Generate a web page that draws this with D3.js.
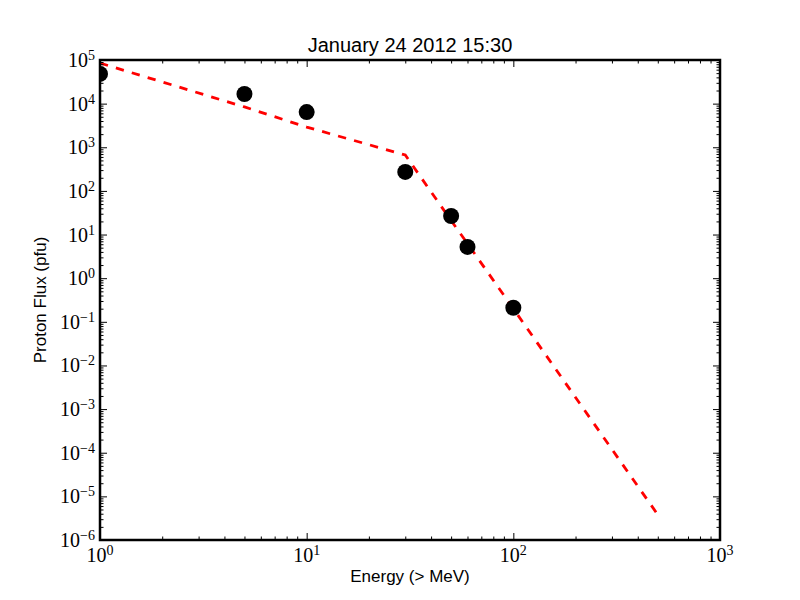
<!DOCTYPE html>
<html>
<head>
<meta charset="utf-8">
<script src="https://cdn.jsdelivr.net/npm/d3@7"></script>
<style>
  body { margin: 0; background: #fff; }
  svg { display: block; }
</style>
</head>
<body>
<div id="chart"></div>
<script>
// measured points (energy > MeV, flux pfu)
const energy = [1, 5, 10, 30, 50, 60, 100];
const flux = [4.8e4, 1.66e4, 6.4e3, 272, 26.6, 5.2, 0.21];

// fitted broken power law, read at its vertices
const fitEnergy = [1, 5, 10, 30, 50, 60, 100, 500];
const fitFlux = [8.5e4, 8.4e3, 2.9e3, 665, 21, 6.2, 0.2, 3.8e-6];

const xTicks = [1, 10, 100, 1000];
const yTicks = [1e-6, 1e-5, 1e-4, 1e-3, 1e-2, 1e-1, 1, 10, 100, 1e3, 1e4, 1e5];

const W = 800, H = 600;
const L = 100, R = 720, T = 60, B = 540;

const svg = d3.select("#chart").append("svg").attr("width", W).attr("height", H);

const x = d3.scaleLog().domain([1, 1000]).range([L, R]);
const y = d3.scaleLog().domain([1e-6, 1e5]).range([B, T]);

function minors(domain) {
    const out = [];
    for (let e = Math.log10(domain[0]); e < Math.log10(domain[1]); e++) {
        for (let k = 2; k <= 9; k++) out.push(k * Math.pow(10, e));
    }
    return out;
}
const xMinor = minors(x.domain());
const yMinor = minors(y.domain());

svg.append("clipPath").attr("id", "clip")
  .append("rect").attr("x", L).attr("y", T).attr("width", R - L).attr("height", B - T);

const plot = svg.append("g").attr("clip-path", "url(#clip)");

const line = d3.line().x((d, i) => x(fitEnergy[i])).y(d => y(d));
plot.append("path").datum(fitFlux)
  .attr("d", line).attr("fill", "none")
  .attr("stroke", "#ff0000").attr("stroke-width", 2.8)
  .attr("stroke-dasharray", "8.3,8.3");

plot.selectAll("circle").data(energy).enter().append("circle")
  .attr("cx", d => x(d)).attr("cy", (d, i) => y(flux[i]))
  .attr("r", 8).attr("fill", "#000");

// ticks, inward on all four sides
function tickAxis(axis, scale, vals, size, tr) {
    const g = svg.append("g").attr("transform", tr)
      .call(axis(scale).tickValues(vals).tickSizeInner(-size).tickSizeOuter(0).tickFormat(""));
    g.select(".domain").remove();
    g.selectAll(".tick line").attr("stroke", "#000").attr("stroke-width", 1);
}
tickAxis(d3.axisBottom, x, xTicks, 7, `translate(0,${B})`);
tickAxis(d3.axisBottom, x, xMinor, 3.5, `translate(0,${B})`);
tickAxis(d3.axisTop, x, xTicks, 7, `translate(0,${T})`);
tickAxis(d3.axisTop, x, xMinor, 3.5, `translate(0,${T})`);
tickAxis(d3.axisLeft, y, yTicks, 7, `translate(${L},0)`);
tickAxis(d3.axisLeft, y, yMinor, 3.5, `translate(${L},0)`);
tickAxis(d3.axisRight, y, yTicks, 7, `translate(${R},0)`);
tickAxis(d3.axisRight, y, yMinor, 3.5, `translate(${R},0)`);

svg.append("rect").attr("x", L).attr("y", T).attr("width", R - L).attr("height", B - T)
  .attr("fill", "none").attr("stroke", "#000").attr("stroke-width", 2.5);

function powLabel(sel, v) {
    const e = Math.round(Math.log10(v));
    sel.append("tspan").text("10");
    sel.append("tspan").attr("dy", "-0.5em").attr("font-size", "14px")
      .text(e < 0 ? "\u2212" + (-e) : String(e));
}

const serif = "'Liberation Serif', 'DejaVu Serif', serif";
svg.append("g").selectAll("text").data(xTicks).enter().append("text")
  .attr("x", d => x(d)).attr("y", 562)
  .attr("text-anchor", "middle").attr("font-family", serif).attr("font-size", "20px")
  .each(function(d) { powLabel(d3.select(this), d); });

svg.append("g").selectAll("text").data(yTicks).enter().append("text")
  .attr("x", 95).attr("y", d => y(d) + 7)
  .attr("text-anchor", "end").attr("font-family", serif).attr("font-size", "20px")
  .each(function(d) { powLabel(d3.select(this), d); });

const sans = "'Liberation Sans', Arial, sans-serif";
svg.append("text").attr("x", (L + R) / 2).attr("y", 52)
  .attr("text-anchor", "middle").attr("font-family", sans).attr("font-size", "20px")
  .text("January 24 2012 15:30");

svg.append("text").attr("x", (L + R) / 2).attr("y", 582)
  .attr("text-anchor", "middle").attr("font-family", sans).attr("font-size", "17px")
  .text("Energy (> MeV)");

svg.append("text").attr("transform", `translate(46,${(T + B) / 2}) rotate(-90)`)
  .attr("text-anchor", "middle").attr("font-family", sans).attr("font-size", "17px")
  .text("Proton Flux (pfu)");
</script>
</body>
</html>
